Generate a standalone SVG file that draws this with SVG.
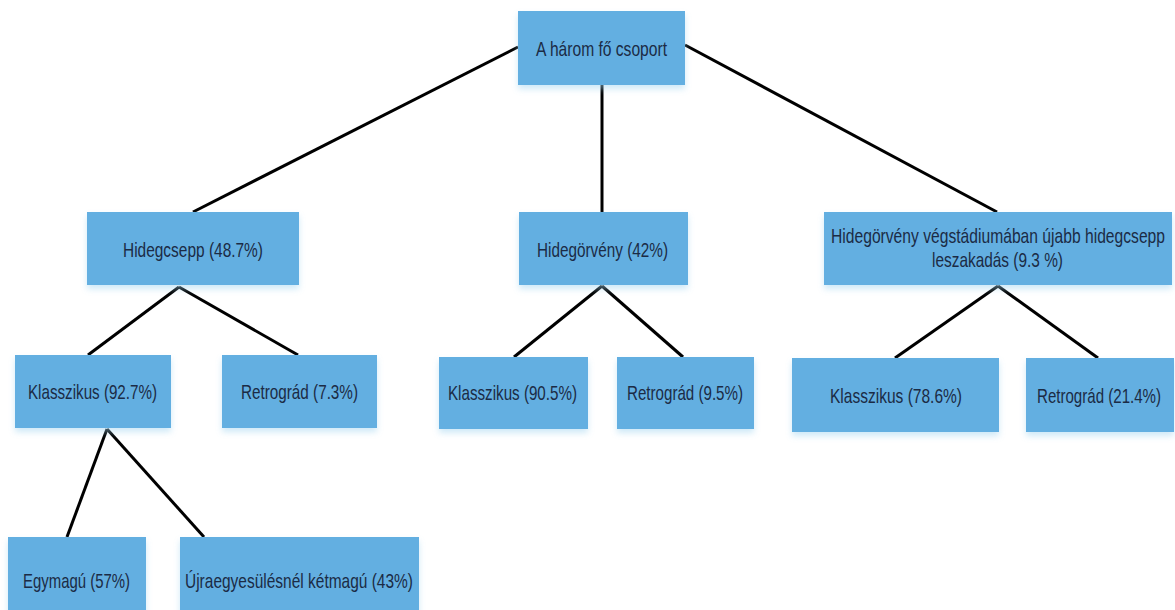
<svg xmlns="http://www.w3.org/2000/svg" width="1175" height="610" viewBox="0 0 1175 610">
<defs>
<filter id="sh" x="-10%" y="-20%" width="120%" height="150%">
<feGaussianBlur in="SourceAlpha" stdDeviation="3"/>
<feOffset dy="4" result="b"/>
<feFlood flood-color="#9fd3f0" flood-opacity="0.5"/>
<feComposite in2="b" operator="in"/>
<feMerge><feMergeNode/><feMergeNode in="SourceGraphic"/></feMerge>
</filter>
</defs>
<style>
.box{fill:#64afe1;filter:url(#sh)}
.t{font-family:"Liberation Sans",Arial,sans-serif;font-size:20px;fill:#1b2b45;text-anchor:middle}
.c{stroke:#000;stroke-width:3;fill:none;stroke-linecap:butt}
</style>
<rect width="1175" height="610" fill="#fff"/>
<g id="connectors">
<line class="c" x1="518" y1="47" x2="193" y2="212"/>
<line class="c" x1="602" y1="85" x2="602" y2="212"/>
<line class="c" x1="685" y1="45" x2="997" y2="212"/>
<line class="c" x1="179" y1="287" x2="88" y2="355"/>
<line class="c" x1="179" y1="287" x2="298" y2="355"/>
<line class="c" x1="602" y1="286" x2="514" y2="357"/>
<line class="c" x1="602" y1="286" x2="683" y2="357"/>
<line class="c" x1="998" y1="286" x2="895" y2="358"/>
<line class="c" x1="998" y1="286" x2="1098" y2="358"/>
<line class="c" x1="107" y1="429" x2="67" y2="537"/>
<line class="c" x1="107" y1="429" x2="204" y2="537"/>
</g>
<g id="root"><rect class="box" x="518" y="11" width="167" height="74"/><text class="t" transform="translate(601.5,56) scale(0.78,1)" textLength="167.9" lengthAdjust="spacingAndGlyphs">A három fő csoport</text></g>
<g id="hidegcsepp"><rect class="box" x="87" y="212" width="212" height="73"/><text class="t" transform="translate(193,257) scale(0.78,1)" textLength="179.5" lengthAdjust="spacingAndGlyphs">Hidegcsepp (48.7%)</text></g>
<g id="hidegorveny"><rect class="box" x="519" y="212" width="169" height="73"/><text class="t" transform="translate(602.5,257) scale(0.78,1)" textLength="167.9" lengthAdjust="spacingAndGlyphs">Hidegörvény (42%)</text></g>
<g id="vegstadium"><rect class="box" x="824" y="212" width="348" height="73"/><text class="t" transform="translate(998,243) scale(0.78,1)" textLength="428.2" lengthAdjust="spacingAndGlyphs">Hidegörvény végstádiumában újabb hidegcsepp</text><text class="t" transform="translate(997.5,267) scale(0.78,1)" textLength="167.9" lengthAdjust="spacingAndGlyphs">leszakadás (9.3 %)</text></g>
<g id="klasszikus1"><rect class="box" x="15" y="355" width="156" height="73"/><text class="t" transform="translate(92.5,399) scale(0.78,1)" textLength="165.4" lengthAdjust="spacingAndGlyphs">Klasszikus (92.7%)</text></g>
<g id="retrograd1"><rect class="box" x="222" y="355" width="155" height="73"/><text class="t" transform="translate(299.5,399) scale(0.78,1)" textLength="150" lengthAdjust="spacingAndGlyphs">Retrográd (7.3%)</text></g>
<g id="klasszikus2"><rect class="box" x="439" y="357" width="149" height="72"/><text class="t" transform="translate(512.5,400) scale(0.78,1)" textLength="165.4" lengthAdjust="spacingAndGlyphs">Klasszikus (90.5%)</text></g>
<g id="retrograd2"><rect class="box" x="617" y="357" width="137" height="72"/><text class="t" transform="translate(685,400) scale(0.78,1)" textLength="148.7" lengthAdjust="spacingAndGlyphs">Retrográd (9.5%)</text></g>
<g id="klasszikus3"><rect class="box" x="792" y="358" width="207" height="74"/><text class="t" transform="translate(896,403) scale(0.78,1)" textLength="169.2" lengthAdjust="spacingAndGlyphs">Klasszikus (78.6%)</text></g>
<g id="retrograd3"><rect class="box" x="1026" y="358" width="148" height="74"/><text class="t" transform="translate(1099,403) scale(0.78,1)" textLength="159" lengthAdjust="spacingAndGlyphs">Retrográd (21.4%)</text></g>
<g id="egymagu"><rect class="box" x="8" y="537" width="138" height="76"/><text class="t" transform="translate(76.5,588) scale(0.78,1)" textLength="137.2" lengthAdjust="spacingAndGlyphs">Egymagú (57%)</text></g>
<g id="ketmagu"><rect class="box" x="180" y="537" width="239" height="76"/><text class="t" transform="translate(299,588) scale(0.78,1)" textLength="292.3" lengthAdjust="spacingAndGlyphs">Újraegyesülésnél kétmagú (43%)</text></g>
</svg>
